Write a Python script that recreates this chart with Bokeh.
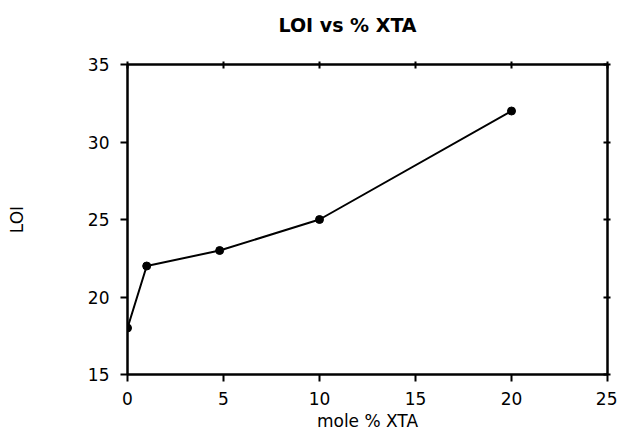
from bokeh.plotting import figure
from bokeh.models import Range1d, LinearAxis, FixedTicker, Title, CustomJSTickFormatter
from bokeh.embed import file_html
from bokeh.resources import INLINE

mole_pct = [0, 1, 4.8, 10, 20]
loi = [18, 22, 23, 25, 32]
x_ticks = [0, 5, 10, 15, 20, 25]
y_ticks = [15, 20, 25, 30, 35]
title_text = "LOI vs % XTA"

FONT = "DejaVu Sans"

p = figure(width=617, height=433, output_backend="svg", toolbar_location=None,
           x_range=Range1d(0, 25), y_range=Range1d(15, 35),
           min_border_left=127, min_border_right=10, min_border_top=64, min_border_bottom=59,
           x_axis_label="mole % XTA", y_axis_label="LOI")
# trailing blank line lifts the single visible title line higher above the frame
p.title = Title(text=title_text + "\n ", align="left", offset=151, standoff=8,
                text_font=FONT, text_font_size="19px", text_font_style="bold", text_color="black")
p.background_fill_color = "white"
p.border_fill_color = "white"
p.grid.visible = False
p.outline_line_color = "black"
p.outline_line_width = 2

for ax, ticks in ((p.xaxis[0], x_ticks), (p.yaxis[0], y_ticks)):
    ax.ticker = FixedTicker(ticks=ticks)
    ax.axis_line_width = 2
    ax.axis_line_color = "black"
    ax.major_tick_line_width = 2
    ax.major_tick_out = 7
    ax.major_tick_in = 0
    ax.minor_tick_line_color = None
    ax.major_label_text_font = FONT
    ax.major_label_text_font_size = "17px"
    ax.major_label_text_color = "black"
    ax.axis_label_text_font = FONT
    ax.axis_label_text_font_size = "17px"
    ax.axis_label_text_font_style = "normal"
    ax.axis_label_text_color = "black"
p.xaxis[0].major_label_standoff = 10
p.xaxis[0].axis_label_standoff = 3
p.yaxis[0].major_label_standoff = 11
p.yaxis[0].axis_label_standoff = 58

blank = CustomJSTickFormatter(code="return ''")
top = LinearAxis(ticker=FixedTicker(ticks=x_ticks), formatter=blank,
                 major_tick_in=4, major_tick_out=3, minor_tick_line_color=None,
                 axis_line_width=2, major_tick_line_width=2)
right = LinearAxis(ticker=FixedTicker(ticks=y_ticks), formatter=blank,
                   major_tick_in=4, major_tick_out=3, minor_tick_line_color=None,
                   axis_line_width=2, major_tick_line_width=2)
p.add_layout(top, "above")
p.add_layout(right, "right")

p.line(mole_pct, loi, line_color="black", line_width=2)
p.scatter(mole_pct, loi, size=8, fill_color="black", line_color="black")

open("out.html", "w").write(file_html(p, INLINE))
